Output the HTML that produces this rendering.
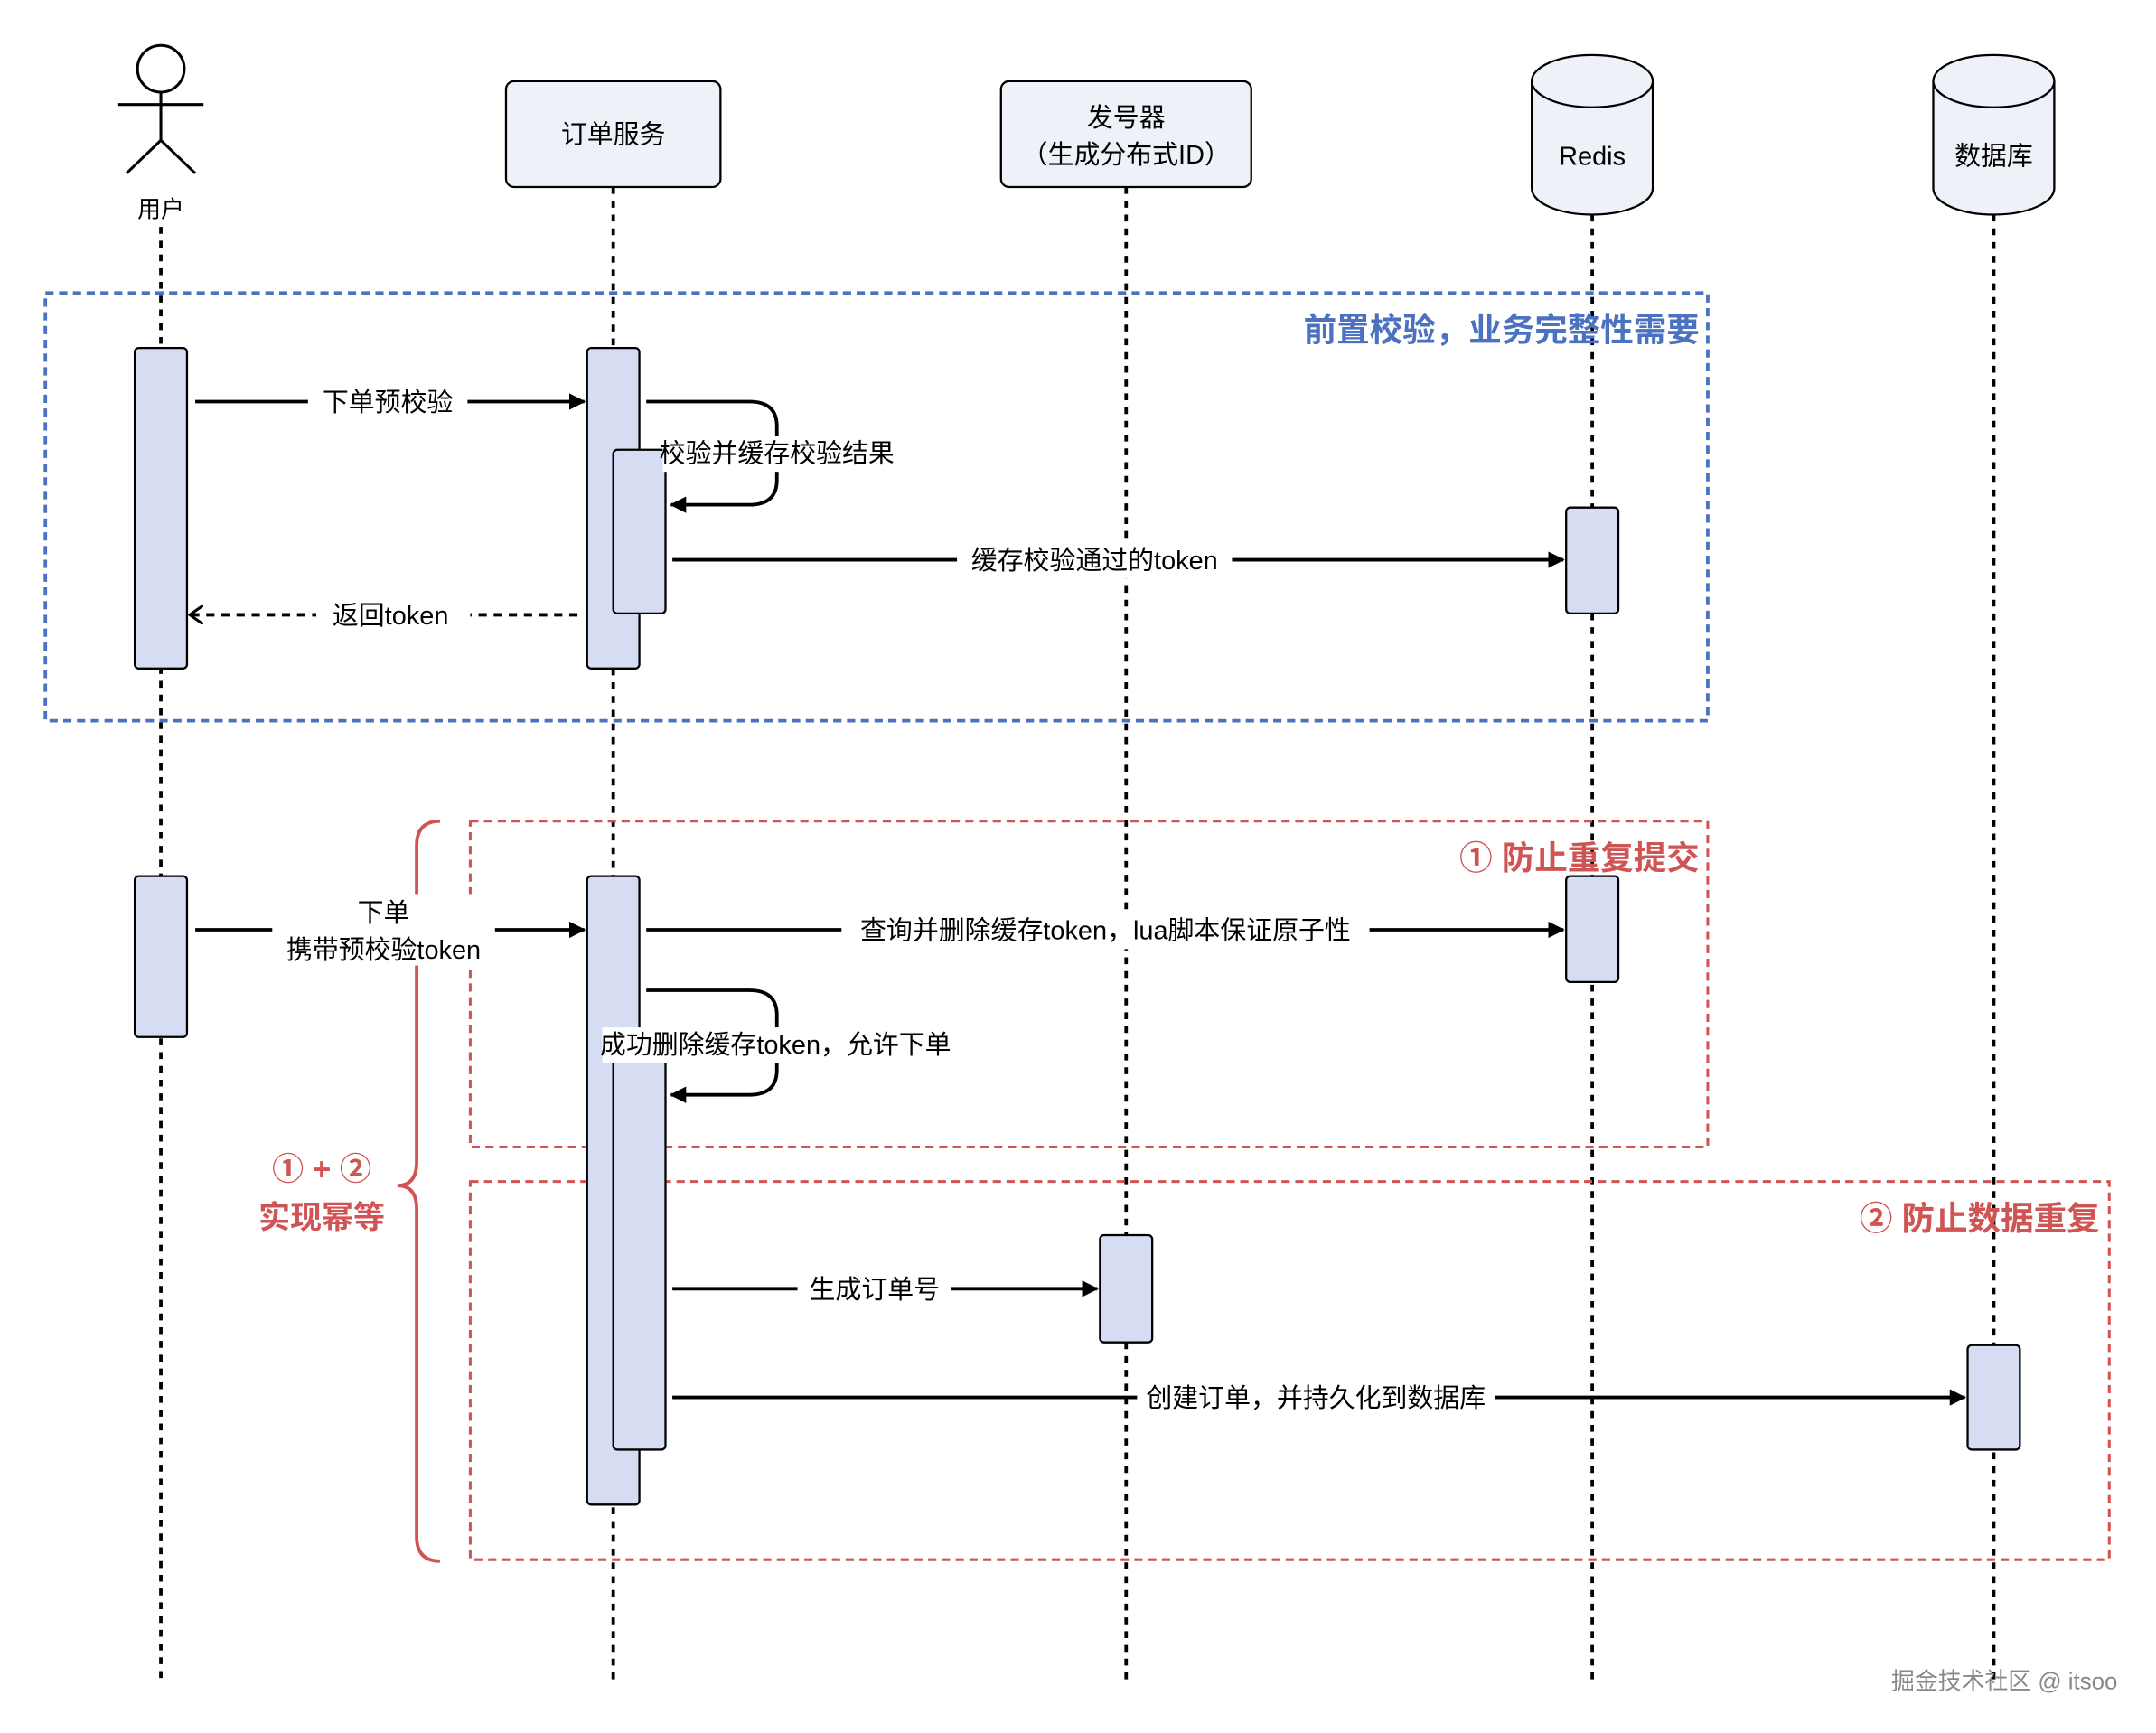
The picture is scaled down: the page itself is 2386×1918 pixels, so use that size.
<!DOCTYPE html>
<html><head><meta charset="utf-8"><style>
html,body{margin:0;padding:0;background:#fff;}
svg{display:block;}
text{font-family:"Liberation Sans","Noto Sans CJK SC",sans-serif;}
</style></head><body>
<svg width="2386" height="1918" viewBox="0 0 1568 1260" preserveAspectRatio="none" xmlns="http://www.w3.org/2000/svg">
<defs>
<marker id="a" markerWidth="12" markerHeight="12" refX="11" refY="6" orient="auto" markerUnits="userSpaceOnUse"><path d="M0,0 L12,6 L0,12 Z" fill="#000"/></marker>
<marker id="o" markerWidth="12" markerHeight="14" refX="10" refY="7" orient="auto" markerUnits="userSpaceOnUse"><path d="M0,0 L10,7 L0,14" fill="none" stroke="#000" stroke-width="2"/></marker>
</defs>
<rect width="1568" height="1260" fill="#fff"/>
<g stroke="#000" stroke-width="2.5" stroke-dasharray="5,5">
<line x1="117" y1="165" x2="117" y2="1225"/>
<line x1="446" y1="136" x2="446" y2="1225"/>
<line x1="819" y1="136" x2="819" y2="1225"/>
<line x1="1158" y1="156" x2="1158" y2="1225"/>
<line x1="1450" y1="156" x2="1450" y2="1225"/>
</g>
<g stroke="#000" stroke-width="2" fill="none">
<circle cx="117" cy="50" r="17" fill="#fff"/>
<line x1="117" y1="67" x2="117" y2="102"/>
<line x1="86" y1="76" x2="148" y2="76"/>
<line x1="117" y1="102" x2="92" y2="126"/>
<line x1="117" y1="102" x2="142" y2="126"/>
</g>
<text x="117" y="158" font-size="17" text-anchor="middle">用户</text>
<rect x="368" y="59" width="156" height="77" rx="6" fill="#eef1f8" stroke="#000" stroke-width="1.5"/>
<text x="446" y="104" font-size="19" text-anchor="middle">订单服务</text>
<rect x="728" y="59" width="182" height="77" rx="6" fill="#eef1f8" stroke="#000" stroke-width="1.5"/>
<text x="819" y="92" font-size="19" text-anchor="middle">发号器</text>
<text x="819" y="119" font-size="19" text-anchor="middle">（生成分布式ID）</text>
<g fill="#eef1f8" stroke="#000" stroke-width="1.5">
<path d="M1114,59 L1114,137 A44,19 0 0 0 1202,137 L1202,59"/>
<ellipse cx="1158" cy="59" rx="44" ry="19"/>
<path d="M1406,59 L1406,137 A44,19 0 0 0 1494,137 L1494,59"/>
<ellipse cx="1450" cy="59" rx="44" ry="19"/>
</g>
<text x="1158" y="120" font-size="19" text-anchor="middle">Redis</text>
<text x="1450" y="120" font-size="19" text-anchor="middle">数据库</text>
<rect x="33" y="213" width="1209" height="311" fill="none" stroke="#4a72c0" stroke-width="2.5" stroke-dasharray="6,4"/>
<text x="1236" y="248" font-size="24" font-weight="bold" fill="#4a72c0" text-anchor="end">前置校验，业务完整性需要</text>
<rect x="342" y="597" width="900" height="237" fill="none" stroke="#d05454" stroke-width="2" stroke-dasharray="6,4"/>
<text x="1236" y="632" font-size="24" font-weight="bold" fill="#d05454" text-anchor="end">① 防止重复提交</text>
<rect x="342" y="859" width="1192" height="275" fill="none" stroke="#d05454" stroke-width="2" stroke-dasharray="6,4"/>
<text x="1527" y="894" font-size="24" font-weight="bold" fill="#d05454" text-anchor="end">② 防止数据重复</text>
<path d="M320,597 Q303,597 303,615 L303,845 Q303,862 289,862 Q303,862 303,879 L303,1117 Q303,1135 320,1135" fill="none" stroke="#d05454" stroke-width="2.5"/>
<text x="234" y="858" font-size="23" font-weight="bold" fill="#d05454" text-anchor="middle">① + ②</text>
<text x="234" y="893" font-size="23" font-weight="bold" fill="#d05454" text-anchor="middle">实现幂等</text>
<g fill="#d6dcf2" stroke="#000" stroke-width="1.5">
<rect x="98" y="253" width="38" height="233" rx="3"/>
<rect x="427" y="253" width="38" height="233" rx="3"/>
<rect x="446" y="327" width="38" height="119" rx="3"/>
<rect x="1139" y="369" width="38" height="77" rx="3"/>
<rect x="98" y="637" width="38" height="117" rx="3"/>
<rect x="427" y="637" width="38" height="457" rx="3"/>
<rect x="446" y="760" width="38" height="294" rx="3"/>
<rect x="1139" y="637" width="38" height="77" rx="3"/>
<rect x="800" y="898" width="38" height="78" rx="3"/>
<rect x="1431" y="978" width="38" height="76" rx="3"/>
</g>
<g stroke="#000" stroke-width="2.5" fill="none">
<line x1="142" y1="292" x2="425" y2="292" marker-end="url(#a)"/>
<path d="M470,292 L545,292 Q565,292 565,310 L565,349 Q565,367 545,367 L488,367" marker-end="url(#a)"/>
<line x1="489" y1="407" x2="1137" y2="407" marker-end="url(#a)"/>
<line x1="420" y1="447" x2="138" y2="447" stroke-dasharray="6,5" marker-end="url(#o)"/>
<line x1="142" y1="676" x2="425" y2="676" marker-end="url(#a)"/>
<line x1="470" y1="676" x2="1137" y2="676" marker-end="url(#a)"/>
<path d="M470,720 L545,720 Q565,720 565,738 L565,778 Q565,796 545,796 L488,796" marker-end="url(#a)"/>
<line x1="489" y1="937" x2="798" y2="937" marker-end="url(#a)"/>
<line x1="489" y1="1016" x2="1429" y2="1016" marker-end="url(#a)"/>
</g>
<g font-size="19" text-anchor="middle">
<rect x="224" y="280" width="116" height="26" fill="#fff"/>
<text x="282" y="299">下单预校验</text>
<rect x="482" y="317" width="168" height="26" fill="#fff"/>
<text x="565" y="336">校验并缓存校验结果</text>
<rect x="696" y="395" width="200" height="26" fill="#fff"/>
<text x="796" y="414">缓存校验通过的token</text>
<rect x="230" y="435" width="112" height="26" fill="#fff"/>
<text x="284" y="454">返回token</text>
<rect x="198" y="650" width="162" height="52" fill="#fff"/>
<text x="279" y="670">下单</text>
<text x="279" y="697">携带预校验token</text>
<rect x="612" y="664" width="384" height="26" fill="#fff"/>
<text x="804" y="683">查询并删除缓存token，lua脚本保证原子性</text>
<rect x="438" y="747" width="254" height="26" fill="#fff"/>
<text x="564" y="766">成功删除缓存token，允许下单</text>
<rect x="580" y="925" width="112" height="26" fill="#fff"/>
<text x="636" y="944">生成订单号</text>
<rect x="827" y="1004" width="260" height="26" fill="#fff"/>
<text x="957" y="1023">创建订单，并持久化到数据库</text>
</g>
<text x="1540" y="1228" font-size="17" fill="#888" text-anchor="end">掘金技术社区 @ itsoo</text>
</svg>
</body></html>
